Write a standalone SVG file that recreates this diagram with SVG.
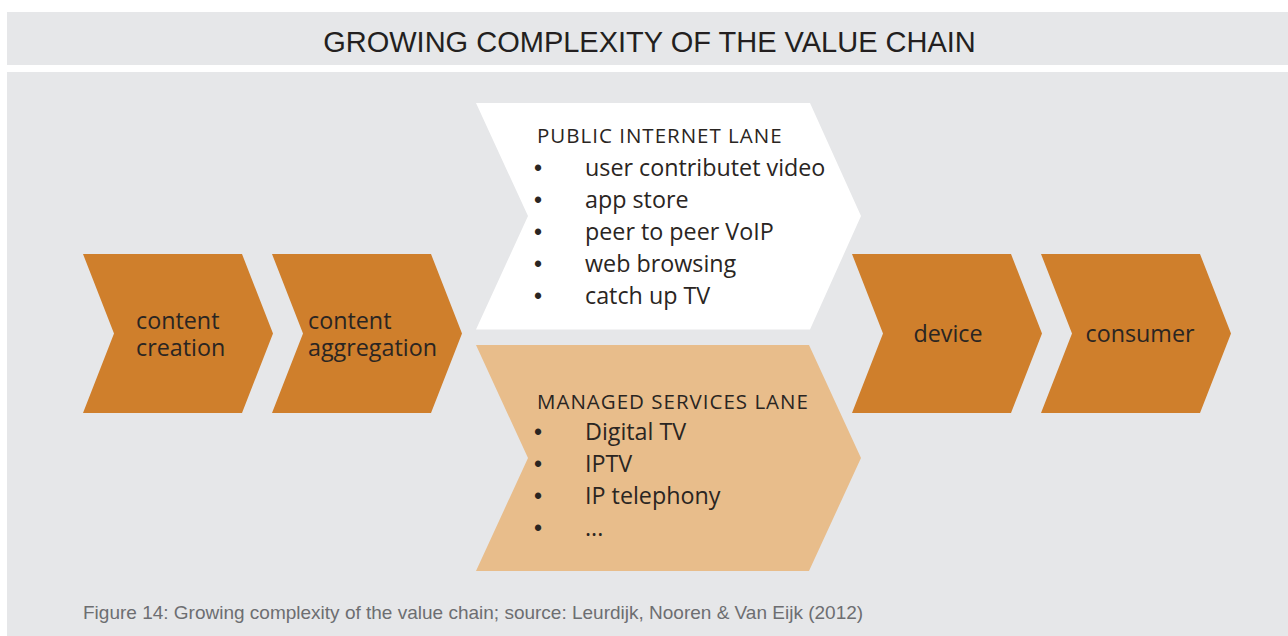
<svg xmlns="http://www.w3.org/2000/svg" width="1288" height="636" viewBox="0 0 1288 636">
  <style>
    .band { fill: #E6E7E9; }
    .step { fill: #CF7F2C; }
    .lane-public { fill: #FFFFFF; }
    .lane-managed { fill: #E8BD8B; }
    .label { font-family: "Open Sans", "Noto Sans", sans-serif; font-size: 23.3px; fill: #2A2522; }
    .bullet { font-family: "Liberation Sans", Arial, sans-serif; font-size: 23px; fill: #2A2522; }
    .head { font-family: "Open Sans", "Noto Sans", sans-serif; font-size: 20.5px; letter-spacing: 1px; fill: #2A2522; }
    .title { font-family: "Liberation Sans", Arial, sans-serif; font-size: 29px; fill: #231F20; }
    .caption { font-family: "Liberation Sans", Arial, sans-serif; font-size: 19px; fill: #6D6E71; }
  </style>
  <rect width="1288" height="636" fill="#FFFFFF"/>
  <g id="title-band">
    <rect class="band" x="7" y="12" width="1281" height="53"/>
    <text class="title" x="649.5" y="52.3" text-anchor="middle">GROWING COMPLEXITY OF THE VALUE CHAIN</text>
  </g>
  <rect id="panel" class="band" x="7" y="72" width="1281" height="564"/>

  <g id="connectors"></g>

  <g id="content-creation">
    <polygon class="step" points="83,254 242,254 273,333.5 242,413 83,413 114,333.5"/>
    <text class="label" x="136" y="329">content</text>
    <text class="label" x="136" y="356">creation</text>
  </g>
  <g id="content-aggregation">
    <polygon class="step" points="272,254 431,254 462,333.5 431,413 272,413 303,333.5"/>
    <text class="label" x="308" y="329">content</text>
    <text class="label" x="308" y="356">aggregation</text>
  </g>
  <g id="public-internet-lane">
    <polygon class="lane-public" points="476,103 810,103 861,216 810,329.5 476,329.5 528,216"/>
    <text class="head" x="537" y="143.3">PUBLIC INTERNET LANE</text>
    <text class="bullet" x="534" y="176">•</text><text class="label" x="585" y="176">user contributet video</text>
    <text class="bullet" x="534" y="208">•</text><text class="label" x="585" y="208">app store</text>
    <text class="bullet" x="534" y="240">•</text><text class="label" x="585" y="240">peer to peer VoIP</text>
    <text class="bullet" x="534" y="272">•</text><text class="label" x="585" y="272">web browsing</text>
    <text class="bullet" x="534" y="304">•</text><text class="label" x="585" y="304">catch up TV</text>
  </g>
  <g id="managed-services-lane">
    <polygon class="lane-managed" points="476,345 809,345 861,458 809,571 476,571 528,458"/>
    <text class="head" x="537" y="409">MANAGED SERVICES LANE</text>
    <text class="bullet" x="534" y="440">•</text><text class="label" x="585" y="440">Digital TV</text>
    <text class="bullet" x="534" y="472">•</text><text class="label" x="585" y="472">IPTV</text>
    <text class="bullet" x="534" y="504">•</text><text class="label" x="585" y="504">IP telephony</text>
    <text class="bullet" x="534" y="536">•</text><text class="label" x="585" y="536">...</text>
  </g>
  <g id="device">
    <polygon class="step" points="852,254 1011,254 1042,333.5 1011,413 852,413 883,333.5"/>
    <text class="label" x="948" y="342" text-anchor="middle">device</text>
  </g>
  <g id="consumer">
    <polygon class="step" points="1041,254 1200,254 1231,333.5 1200,413 1041,413 1072,333.5"/>
    <text class="label" x="1140" y="342" text-anchor="middle">consumer</text>
  </g>
  <text class="caption" x="83" y="619">Figure 14: Growing complexity of the value chain; source: Leurdijk, Nooren &amp; Van Eijk (2012)</text>
</svg>
